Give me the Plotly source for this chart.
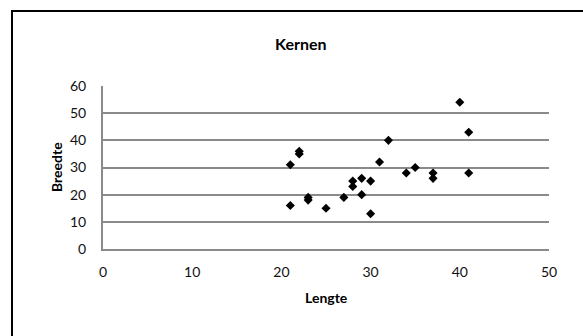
import plotly.graph_objects as go

# Kernen: length vs. width of the seeds
lengte = [21, 22, 22, 21, 23, 23, 25, 27, 28, 28, 29, 29, 30, 30, 31, 32, 34, 35, 37, 37, 40, 41, 41]
breedte = [31, 36, 35, 16, 19, 18, 15, 19, 25, 23, 26, 20, 25, 13, 32, 40, 28, 30, 28, 26, 54, 43, 28]

x_ticks = [0, 10, 20, 30, 40, 50]
y_ticks = [0, 10, 20, 30, 40, 50, 60]

W, H = 583, 336
L, R, T, B = 103, 34, 86, 87
plot_w = W - L - R
plot_h = H - T - B

FONT = "Lato"
GRID = "#8a8a8a"

fig = go.Figure()
fig.add_trace(go.Scatter(
    x=lengte, y=breedte, mode="markers",
    marker=dict(symbol="diamond", size=7, color="black", line=dict(width=0)),
    showlegend=False, hoverinfo="x+y",
))

fig.update_layout(
    width=W, height=H,
    margin=dict(l=L, r=R, t=T, b=B, pad=0),
    paper_bgcolor="white", plot_bgcolor="white",
    font=dict(family=FONT, size=14, color="#000000"),
    xaxis=dict(range=[0, 50], tickvals=x_ticks, showgrid=False, zeroline=False,
               showline=True, linecolor=GRID, linewidth=2, ticks="",
               ticklabelstandoff=9, tickfont=dict(size=14, color="#111")),
    yaxis=dict(range=[0, 60], tickvals=y_ticks, showgrid=True, gridcolor=GRID,
               gridwidth=2, zeroline=False, showline=True, linecolor=GRID,
               linewidth=2, ticks="", ticklabelstandoff=12,
               tickfont=dict(size=14, color="#111")),
)

def px_x(p):
    return (p - L) / plot_w

def px_y(p):
    return (H - B - p) / plot_h

# Outer chart border (left and top edges visible, the rest runs off the page)
fig.add_shape(type="rect", xref="paper", yref="paper",
              x0=px_x(12), y0=px_y(H + 20), x1=px_x(W + 20), y1=px_y(11),
              line=dict(color="black", width=2), fillcolor="rgba(0,0,0,0)")

fig.add_annotation(text="<b>Kernen</b>", xref="paper", yref="paper",
                   x=px_x(300), y=px_y(44), showarrow=False,
                   xanchor="center", yanchor="middle", font=dict(size=16))
fig.add_annotation(text="<b>Lengte</b>", xref="paper", yref="paper",
                   x=px_x(326), y=px_y(297), showarrow=False,
                   xanchor="center", yanchor="middle", font=dict(size=14))
fig.add_annotation(text="<b>Breedte</b>", xref="paper", yref="paper",
                   x=px_x(56), y=px_y(167), showarrow=False, textangle=-90,
                   xanchor="center", yanchor="middle", font=dict(size=14))

fig.write_html("out.html")
